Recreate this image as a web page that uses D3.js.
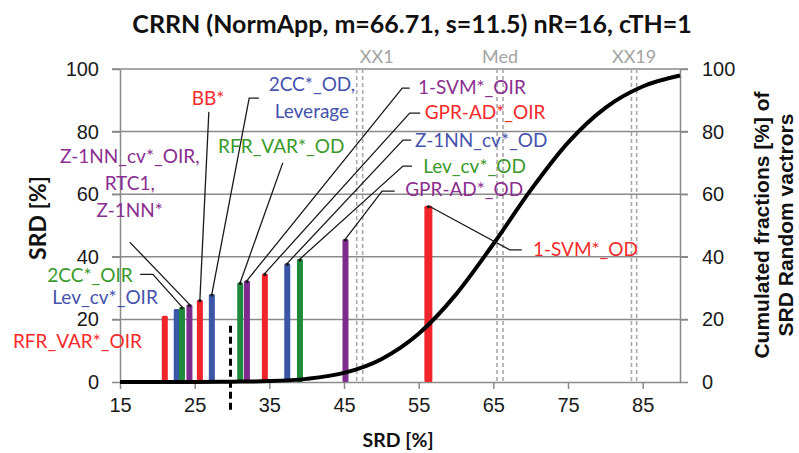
<!DOCTYPE html>
<html>
<head>
<meta charset="utf-8">
<script src="https://cdn.jsdelivr.net/npm/d3@7"></script>
<style>
  body { margin: 0; background: #fff; }
  svg { display: block; }
</style>
</head>
<body>
<svg id="chart" width="799" height="453"></svg>
<script>
// bars: SRD position and height, one per method
const methods = ['RFR_VAR*_OIR', 'Lev_cv*_OIR', '2CC*_OIR', 'Z-1NN_cv*_OIR, RTC1, Z-1NN*', 'BB*',
  '2CC*_OD, Leverage', 'RFR_VAR*_OD', '1-SVM*_OIR', 'GPR-AD*_OIR', 'Z-1NN_cv*_OD', 'Lev_cv*_OD',
  'GPR-AD*_OD', '1-SVM*_OD'];
const srdValues = [21.0, 22.6, 23.3, 24.3, 25.7, 27.3, 31.1, 32.0, 34.4, 37.4, 39.1, 45.2, 56.3];
const barHeights = [21.2, 23.3, 24.0, 24.8, 26.3, 28.1, 31.8, 32.4, 34.7, 37.9, 39.3, 45.7, 56.3];
const groups = ['red', 'blue', 'green', 'purple', 'red', 'blue', 'green', 'purple', 'red', 'blue',
  'green', 'purple', 'red'];

// cumulated fraction of SRD random vectors
const curveX = [15, 20, 25, 30, 35, 40, 45, 50, 55, 60, 65, 70, 75, 80, 85, 90];
const curveY = [0, 0, 0, 0.1, 0.3, 1.0, 2.9, 7.3, 15.4, 28.0, 44.1, 61.3, 76.5, 87.6, 94.4, 97.9];

// reference lines
const refNames = ['XX1', 'Med', 'XX19'];
const refValues = [[46.7, 47.5], [65.5, 66.3], [83.5, 84.2]];
const cutoff = 29.8;

const xTicks = [15, 25, 35, 45, 55, 65, 75, 85];
const yTicks = [0, 20, 40, 60, 80, 100];

const title = 'CRRN (NormApp, m=66.71, s=11.5) nR=16, cTH=1';

const colors = { red: '#f0242a', blue: '#3b55a8', green: '#1f8a3c', purple: '#7d2b8c' };
const textColors = { red: '#f52a2a', blue: '#4553ad', green: '#3a9a2a', purple: '#8a2f8f' };

// label placement (in axis units)
const labelLayout = [
  { bar: 0, lines: ['RFR_VAR*_OIR'], tx: 9.3, ty: 10.9, anchor: 'middle' },
  { bar: 1, lines: ['Lev_cv*_OIR'], tx: 13.0, ty: 24.9, anchor: 'middle' },
  { bar: 2, lines: ['2CC*_OIR'], tx: 16.7, ty: 32.1, anchor: 'end', elbow: [19.4, 34.4], hx: 17.7 },
  { bar: 3, lines: ['Z-1NN_cv*_OIR,', 'RTC1,', 'Z-1NN*'], tx: 16.3, ty: 69.9, anchor: 'middle', elbow: [16.3, 44.7] },
  { bar: 4, lines: ['BB*'], tx: 26.8, ty: 88.5, anchor: 'middle', elbow: [26.9, 86.3] },
  { bar: 5, lines: ['2CC*_OD,', 'Leverage'], tx: 40.7, ty: 92.9, anchor: 'middle', elbow: [32.3, 90.7], hx: 33.6 },
  { bar: 6, lines: ['RFR_VAR*_OD'], tx: 36.6, ty: 73.2, anchor: 'middle', elbow: [36.8, 70.0] },
  { bar: 7, lines: ['1-SVM*_OIR'], tx: 54.9, ty: 91.9, anchor: 'start', elbow: [52.8, 93.9], hx: 53.8 },
  { bar: 8, lines: ['GPR-AD*_OIR'], tx: 55.8, ty: 84.0, anchor: 'start', elbow: [53.8, 85.9], hx: 55.2 },
  { bar: 9, lines: ['Z-1NN_cv*_OD'], tx: 54.5, ty: 75.1, anchor: 'start', elbow: [52.9, 77.3], hx: 54.0 },
  { bar: 10, lines: ['Lev_cv*_OD'], tx: 55.6, ty: 66.8, anchor: 'start', elbow: [52.9, 69.0], hx: 54.1 },
  { bar: 11, lines: ['GPR-AD*_OD'], tx: 53.2, ty: 59.4, anchor: 'start', elbow: [50.1, 61.0], hx: 51.8 },
  { bar: 12, lines: ['1-SVM*_OD'], tx: 70.3, ty: 40.3, anchor: 'start', elbow: [67.2, 42.2], hx: 68.8 }
];

const svg = d3.select('#chart');
const x = d3.scaleLinear().domain([15, 90]).range([120, 680]);
const y = d3.scaleLinear().domain([0, 100]).range([382, 69]);
const gridColor = '#8a8a8a';
const labelFont = 'Lato, "Open Sans", sans-serif';
const tickFont = '"Liberation Sans", Arial, sans-serif';

// grid lines
svg.append('g').selectAll('line').data(yTicks.slice(1)).enter()
  .append('line')
    .attr('x1', x(15) - 8).attr('x2', x(90) + 8)
    .attr('y1', d => y(d)).attr('y2', d => y(d))
    .attr('stroke', gridColor).attr('stroke-width', 1.5);

// axes
const styleAxis = (g) => {
  g.selectAll('path').attr('stroke', gridColor).attr('stroke-width', 1.5);
  g.selectAll('line').attr('stroke', gridColor).attr('stroke-width', 1.5);
  g.selectAll('text').attr('fill', '#1a1a1a').style('font-family', tickFont).style('font-size', '20px');
};
svg.append('g').attr('transform', `translate(${x(15)},0)`)
  .call(d3.axisLeft(y).tickValues(yTicks).tickSize(8).tickSizeOuter(0).tickPadding(13))
  .call(styleAxis);
svg.append('g').attr('transform', `translate(${x(90)},0)`)
  .call(d3.axisRight(y).tickValues(yTicks).tickSize(8).tickSizeOuter(0).tickPadding(14))
  .call(styleAxis);
svg.append('g').attr('transform', `translate(0,${y(0)})`)
  .call(d3.axisBottom(x).tickValues(xTicks).tickSize(7).tickSizeOuter(0).tickPadding(9))
  .call(styleAxis);

// reference dashed lines
refValues.forEach((pair, i) => {
  svg.append('g').selectAll('line').data(pair).enter()
    .append('line')
      .attr('x1', d => x(d)).attr('x2', d => x(d))
      .attr('y1', y(100)).attr('y2', y(0))
      .attr('stroke', '#a8a8a8').attr('stroke-width', 1.6)
      .attr('stroke-dasharray', '4,3');
  svg.append('text')
    .attr('x', x(d3.mean(pair)) + (i === 0 ? 17 : 0))
    .attr('y', 63)
    .attr('text-anchor', 'middle')
    .attr('fill', '#a3a3a3')
    .style('font-family', labelFont).style('font-size', '18px')
    .text(refNames[i]);
});

// bars
const bars = srdValues.map((v, i) => ({ srd: v, h: barHeights[i], group: groups[i], name: methods[i] }));
svg.append('g').selectAll('rect').data(bars).enter()
  .append('rect')
    .attr('x', d => x(d.srd) - (d.srd > 50 ? 4 : 3))
    .attr('width', d => d.srd > 50 ? 8 : 6)
    .attr('y', d => y(d.h))
    .attr('height', d => y(0) - y(d.h))
    .attr('rx', 1.5)
    .attr('fill', d => colors[d.group]);

// cumulative curve
const line = d3.line().x(d => x(d[0])).y(d => y(d[1])).curve(d3.curveMonotoneX);
svg.append('path')
  .datum(curveX.map((v, i) => [v, curveY[i]]))
  .attr('d', line)
  .attr('fill', 'none')
  .attr('stroke', '#000')
  .attr('stroke-width', 4);

// cutoff line
svg.append('line')
  .attr('x1', x(cutoff)).attr('x2', x(cutoff))
  .attr('y1', y(18)).attr('y2', y(-9.5))
  .attr('stroke', '#000').attr('stroke-width', 3)
  .attr('stroke-dasharray', '7,4');

// leader lines and labels
labelLayout.forEach(l => {
  const b = bars[l.bar];
  if (l.elbow) {
    const pts = [[x(b.srd), y(b.h)], [x(l.elbow[0]), y(l.elbow[1])]];
    if (l.hx !== undefined) pts.push([x(l.hx), y(l.elbow[1])]);
    svg.append('path')
      .attr('d', d3.line()(pts))
      .attr('fill', 'none').attr('stroke', '#1a1a1a').attr('stroke-width', 1.3);
    svg.append('circle')
      .attr('cx', x(b.srd)).attr('cy', y(b.h) + 1).attr('r', 1.6).attr('fill', '#1a1a1a');
  }
  const t = svg.append('text')
    .attr('text-anchor', l.anchor)
    .attr('fill', textColors[b.group])
    .style('font-family', labelFont).style('font-size', '19px');
  l.lines.forEach((s, k) => {
    t.append('tspan').attr('x', x(l.tx)).attr('y', y(l.ty) + k * 27).text(s);
  });
});

// titles
svg.append('text')
  .attr('x', 412).attr('y', 33)
  .attr('text-anchor', 'middle')
  .style('font-family', labelFont).style('font-size', '25px').style('font-weight', 'bold')
  .attr('fill', '#111')
  .text(title);
svg.append('text')
  .attr('x', 398).attr('y', 447)
  .attr('text-anchor', 'middle')
  .style('font-family', labelFont).style('font-size', '19.5px').style('font-weight', 'bold')
  .attr('fill', '#111')
  .text('SRD [%]');
svg.append('text')
  .attr('transform', 'translate(46,218) rotate(-90)')
  .attr('text-anchor', 'middle')
  .style('font-family', labelFont).style('font-size', '23px').style('font-weight', 'bold')
  .attr('fill', '#111')
  .text('SRD [%]');
const rt = svg.append('text')
  .attr('transform', 'translate(769,225) rotate(-90)')
  .attr('text-anchor', 'middle')
  .style('font-family', tickFont).style('font-size', '21px').style('font-weight', 'bold')
  .attr('fill', '#111');
rt.append('tspan').attr('x', 0).attr('y', 0).text('Cumulated fractions [%] of');
rt.append('tspan').attr('x', 0).attr('y', 24).text('SRD Random vactrors');
</script>
</body>
</html>
